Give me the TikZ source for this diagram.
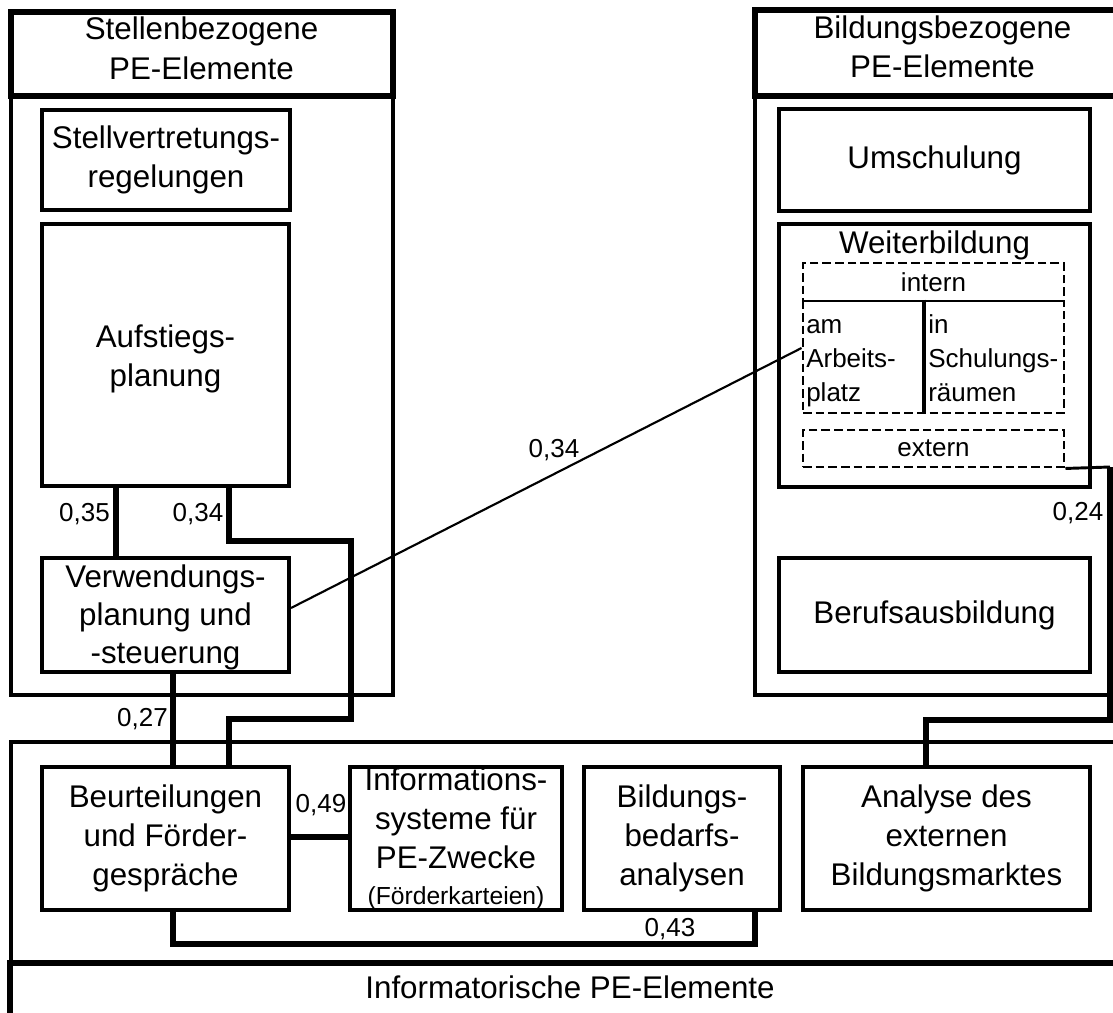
\documentclass[tikz,border=0pt]{standalone}
\usepackage{fontspec}
\setmainfont{Liberation Sans}
\newcommand\mainsz{\fontsize{23.5}{29.5}\selectfont}
\newcommand\smallsz{\fontsize{19.5}{25.5}\selectfont}
\newcommand\rectnode[7][]{\node[#1, minimum width={(#5-#3)*0.75pt}, minimum height={(#6-#4)*0.75pt}] (#2) at ({(#3+#5)/2},{(#4+#6)/2}) {#7};}
\begin{document}
\begin{tikzpicture}[x=0.75pt,y=-0.75pt,
  box/.style={draw, line width=3pt, align=center, inner sep=0pt, font=\mainsz},
  hdr/.style={box, line width=4.5pt},
  grp/.style={draw, line width=3pt, inner sep=0pt},
  dbox/.style={draw, line width=2.2pt, dash pattern=on 6.5pt off 3pt, inner sep=0pt, font=\smallsz},
  conn/.style={line width=4.5pt, line join=miter},
  thinconn/.style={line width=1.6pt},
  num/.style={font=\smallsz, inner sep=0pt, anchor=base},
  txt/.style={inner sep=0pt, align=left, font=\smallsz, anchor=west},
]
\useasboundingbox (0,0) rectangle (1113,1013);
\fill[white] (0,0) rectangle (1113,1013);
\clip (0,0) rectangle (1113,1013);

% helper coordinates for connector positions
\coordinate (x116) at (116,0);
\coordinate (x173) at (173,0);
\coordinate (x229) at (229,0);
\coordinate (x755) at (755,0);
\coordinate (x924) at (924,0);
\coordinate (x926) at (926,0);
\coordinate (y348) at (0,348);
\coordinate (y608) at (0,608);
\coordinate (y837) at (0,837);

% group frames
\rectnode[grp]{stellgrp}{10.5}{96.5}{392.5}{695}{}
\rectnode[grp]{bildgrp}{755}{96}{1130}{695}{}
\rectnode[grp]{infogrp}{10.5}{742}{1130}{964}{}

% headers
\rectnode[hdr]{stellhdr}{10.5}{12.5}{392.5}{96.5}{Stellenbezogene\\PE-Elemente\rule[-9.7pt]{0pt}{9.7pt}}
\rectnode[hdr]{bildhdr}{755}{10}{1130}{96}{Bildungsbezogene\\PE-Elemente\rule[-9.7pt]{0pt}{9.7pt}}
\rectnode[hdr]{infohdr}{10}{963}{1130}{1060}{}
\node[font=\mainsz, inner sep=0pt, anchor=base] (infotitle) at (570,998) {Informatorische PE-Elemente};

% left boxes
\rectnode[box]{stell}{42}{110}{290}{210}{Stellvertretungs-\\regelungen}
\rectnode[box]{aufst}{42}{224}{289}{486}{\rule{0pt}{22.4pt}Aufstiegs-\\planung}
\rectnode[box, font=\fontsize{23.5}{28.5}\selectfont]{verw}{42}{558}{289}{672}{\rule{0pt}{21pt}Verwendungs-\\planung und\\-steuerung}

% bottom boxes
\rectnode[box]{beurt}{42}{767}{289}{910}{Beurteilungen\\und Förder-\\gespräche}
\rectnode[box]{info}{350}{767}{562}{910}{Informations-\\systeme für\\PE-Zwecke\\[-3pt]{\fontsize{18.5}{22}\selectfont(Förderkarteien)}}
\rectnode[box]{bild}{584}{767}{780}{910}{Bildungs-\\bedarfs-\\analysen}
\rectnode[box]{anal}{803}{767}{1090}{910}{Analyse des\\externen\\Bildungsmarktes}

% right boxes
\rectnode[box]{umsch}{779}{109}{1090}{211}{Umschulung}
\rectnode[box]{weiter}{779}{224}{1090}{487}{}
\node[font=\mainsz, inner sep=0pt, anchor=base] (weitertitle) at (934.5,253) {Weiterbildung};
\rectnode[dbox]{intern}{803}{263}{1064}{301}{intern}
\rectnode[dbox]{intmid}{803}{301}{1064}{413}{}
\rectnode[dbox]{extern}{803}{430}{1064}{467}{extern}
\draw[line width=2.4pt] (intmid.north -| x924) -- (intmid.south -| x924);
\node[txt] (amtxt) at (806,363) {am\\Arbeits-\\platz};
\node[txt] (intxt) at (928,358) {in\\Schulungs-\\räumen};
\rectnode[box]{beruf}{779}{558}{1090}{672}{Berufsausbildung}

% connectors
\draw[conn] (aufst.south -| x116) -- (verw.north -| x116);
\draw[conn] (aufst.south -| x229) |- (351,541) |- (229,719) -- (beurt.north -| x229);
\draw[conn] (verw.south -| x173) -- (beurt.north -| x173);
\draw[conn] (beurt.east |- y837) -- (info.west |- y837);
\draw[conn] (beurt.south -| x173) |- (755,944) -- (bild.south -| x755);
\draw[thinconn] (verw.east |- y608) -- (intmid.west |- y348);
\draw[line width=2.2pt] (extern.south east) -- (1110,467);
\draw[conn] (1110,467) |- (926,720) -- (anal.north -| x926);

% connector labels
\node[num] (l035) at (84.5,521) {0,35};
\node[num] (l034a) at (198,521) {0,34};
\node[num] (l027) at (142.5,726) {0,27};
\node[num] (l049) at (321,812) {0,49};
\node[num] (l043) at (670,936) {0,43};
\node[num] (l024) at (1078,520) {0,24};
\node[num] (l034b) at (554,457) {0,34};
\end{tikzpicture}
\end{document}
